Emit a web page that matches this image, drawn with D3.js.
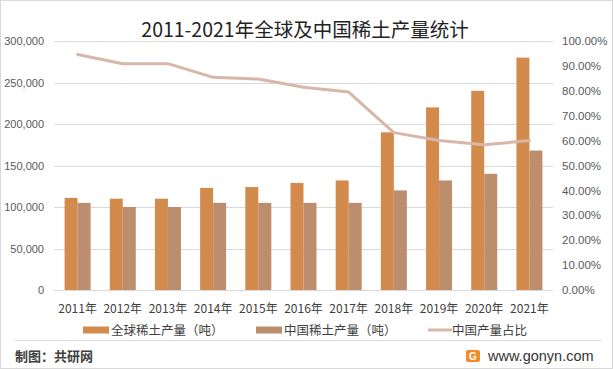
<!DOCTYPE html>
<html>
<head>
<meta charset="utf-8">
<script src="https://cdn.jsdelivr.net/npm/d3@7"></script>
<style>
  body { margin: 0; background: #fff; }
  svg text { font-family: "Liberation Sans", "Noto Sans CJK SC", sans-serif; }
  .cjk { font-family: "Noto Sans CJK SC", sans-serif; }
</style>
</head>
<body>
<div id="chart"></div>
<script>
// data
const years = ["2011年","2012年","2013年","2014年","2015年","2016年","2017年","2018年","2019年","2020年","2021年"];
const globalOutput = [111000,110000,110000,123000,124000,129000,132000,190000,220000,240000,280000];
const chinaOutput  = [105000,100000,100000,105000,105000,105000,105000,120000,132000,140000,168000];
const chinaShare   = [0.946,0.909,0.909,0.854,0.847,0.814,0.795,0.632,0.600,0.583,0.600];
const leftTicks  = [0,50000,100000,150000,200000,250000,300000];
const rightTicks = [0,0.1,0.2,0.3,0.4,0.5,0.6,0.7,0.8,0.9,1.0];

const W = 613, H = 369;
const colGlobal = "#D38B4D", colChina = "#BC8E6D", colLine = "#D6B7AA";

const svg = d3.select("#chart").append("svg")
  .attr("width", W).attr("height", H);

// outer frame
svg.append("rect")
  .attr("x", 0.5).attr("y", 0.5)
  .attr("width", W - 1).attr("height", H - 1)
  .attr("fill", "#fff").attr("stroke", "#d9d9d9");

const plot = {left: 55, right: 552, top: 41, bottom: 290};

const x0 = d3.scaleBand().domain(years).range([plot.left, plot.right]);
const x1 = d3.scaleBand().domain(["global","china"])
  .range([x0.bandwidth() / 2 - 13, x0.bandwidth() / 2 + 13]);
const y = d3.scaleLinear().domain([0, 300000]).range([plot.bottom, plot.top]);
const yR = d3.scaleLinear().domain([0, 1]).range([plot.bottom, plot.top]);

// gridlines
svg.append("g")
  .selectAll("line")
  .data(leftTicks)
  .enter().append("line")
    .attr("x1", 54).attr("x2", 553)
    .attr("y1", d => Math.round(y(d)) + 0.5)
    .attr("y2", d => Math.round(y(d)) + 0.5)
    .attr("stroke", "#d9d9d9");

// left axis
const fmt = d3.format(",");
svg.append("g")
  .attr("transform", "translate(" + 44 + ",0)")
  .call(d3.axisLeft(y).tickValues(leftTicks).tickSize(0).tickPadding(0)
    .tickFormat(d => d === 0 ? "0" : fmt(d)))
  .call(g => g.select(".domain").remove())
  .call(g => g.selectAll("text").attr("fill", "#595959").attr("font-size", 11));

// right axis
svg.append("g")
  .attr("transform", "translate(" + 562 + ",0)")
  .call(d3.axisRight(yR).tickValues(rightTicks).tickSize(0).tickPadding(0)
    .tickFormat(d3.format(".2%")))
  .call(g => g.select(".domain").remove())
  .call(g => g.selectAll("text").attr("fill", "#595959").attr("font-size", 11.5));

// bars
const groups = svg.append("g")
  .selectAll("g")
  .data(years)
  .enter().append("g")
    .attr("transform", d => "translate(" + x0(d) + ",0)");

groups.append("rect")
  .attr("x", x1("global"))
  .attr("y", (d, i) => y(globalOutput[i]))
  .attr("width", x1.bandwidth())
  .attr("height", (d, i) => plot.bottom - y(globalOutput[i]))
  .attr("fill", colGlobal);

groups.append("rect")
  .attr("x", x1("china"))
  .attr("y", (d, i) => y(chinaOutput[i]))
  .attr("width", x1.bandwidth())
  .attr("height", (d, i) => plot.bottom - y(chinaOutput[i]))
  .attr("fill", colChina);

// share line
const line = d3.line()
  .x((d, i) => x0(years[i]) + x0.bandwidth() / 2)
  .y(d => yR(d));

svg.append("path")
  .datum(chinaShare)
  .attr("d", line)
  .attr("fill", "none")
  .attr("stroke", colLine)
  .attr("stroke-width", 3)
  .attr("stroke-linejoin", "round")
  .attr("stroke-linecap", "round");

// x labels
svg.append("g")
  .attr("transform", "translate(0," + 300 + ")")
  .call(d3.axisBottom(x0).tickSize(0).tickPadding(0))
  .call(g => g.select(".domain").remove())
  .call(g => g.selectAll("text").attr("class", "cjk").attr("fill", "#404040")
    .attr("font-size", 12).attr("dy", "1.05em"));

// title
svg.append("text")
  .attr("class", "cjk")
  .attr("x", 305).attr("y", 37)
  .attr("text-anchor", "middle")
  .attr("font-size", 19.5)
  .attr("fill", "#222")
  .text("2011-2021年全球及中国稀土产量统计");

// legend
const legend = [
  {label: "全球稀土产量（吨）", color: colGlobal, type: "bar", x: 83},
  {label: "中国稀土产量（吨）", color: colChina, type: "bar", x: 256},
  {label: "中国产量占比", color: colLine, type: "line", x: 428}
];
const lg = svg.append("g").selectAll("g")
  .data(legend).enter().append("g")
  .attr("transform", d => "translate(" + d.x + ",330)");
lg.filter(d => d.type === "bar").append("rect")
  .attr("x", 0).attr("y", -3.5).attr("width", 26).attr("height", 7)
  .attr("fill", d => d.color);
lg.filter(d => d.type === "line").append("line")
  .attr("x1", 0).attr("x2", 24).attr("y1", 0).attr("y2", 0)
  .attr("stroke", d => d.color).attr("stroke-width", 3);
lg.append("text")
  .attr("class", "cjk")
  .attr("x", d => d.type === "bar" ? 28 : 24)
  .attr("y", 4.5)
  .attr("font-size", 12.5)
  .attr("fill", "#404040")
  .text(d => d.label);

// footer
svg.append("line")
  .attr("x1", 15).attr("x2", 602)
  .attr("y1", 340.5).attr("y2", 340.5)
  .attr("stroke", "#d9d9d9");

svg.append("text")
  .attr("class", "cjk")
  .attr("x", 15).attr("y", 361)
  .attr("font-size", 13)
  .attr("font-weight", "bold")
  .attr("fill", "#404040")
  .text("制图：共研网");

// small logo mark
svg.append("rect")
  .attr("x", 466).attr("y", 350).attr("width", 14).attr("height", 12)
  .attr("rx", 2).attr("fill", "#F28C28");
svg.append("text")
  .attr("x", 473).attr("y", 360)
  .attr("text-anchor", "middle")
  .attr("font-size", 10).attr("font-weight", "bold")
  .attr("fill", "#fff")
  .text("G");

svg.append("text")
  .attr("x", 488).attr("y", 361)
  .attr("font-family", "'DejaVu Sans', sans-serif")
  .attr("font-size", 14.5)
  .attr("fill", "#333")
  .text("www.gonyn.com");
</script>
</body>
</html>
